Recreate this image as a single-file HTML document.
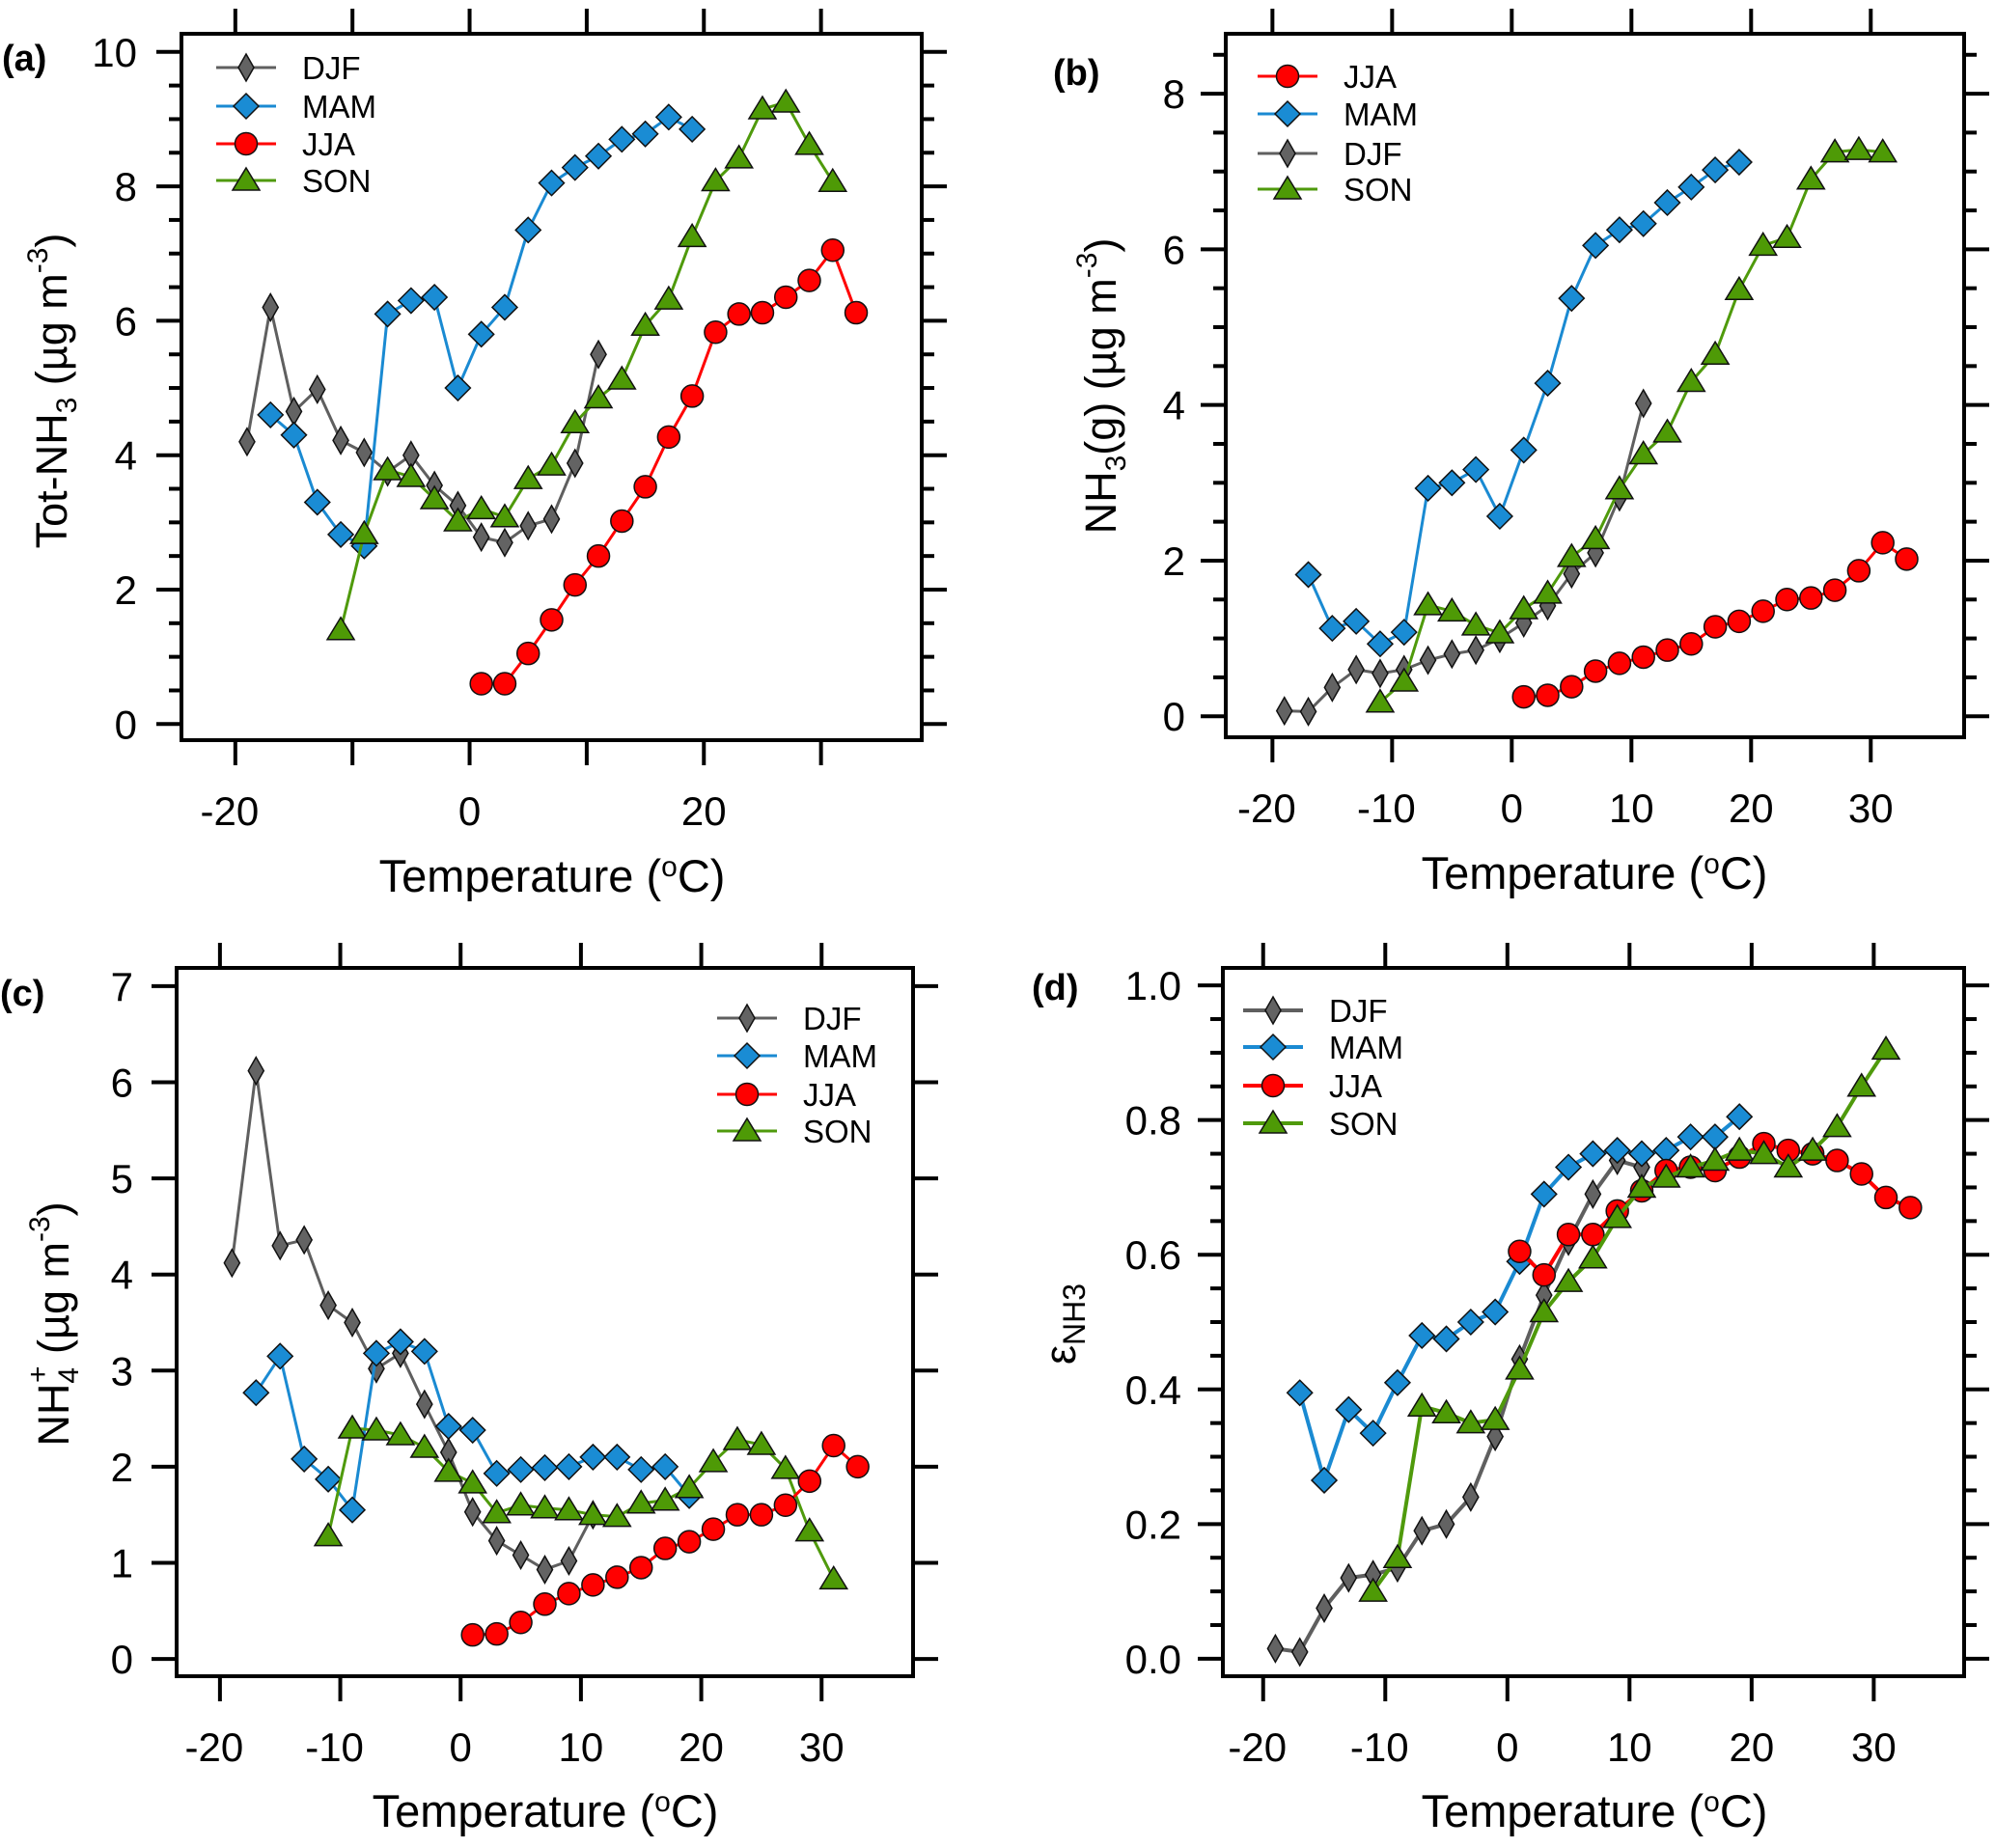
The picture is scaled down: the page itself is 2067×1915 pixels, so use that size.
<!DOCTYPE html>
<html><head><meta charset="utf-8"><style>
html,body{margin:0;padding:0;background:#fff}
svg{display:block;font-family:"Liberation Sans",Arial,sans-serif}
</style></head><body>
<svg id="fig" width="2067" height="1915" viewBox="0 0 2067 1915" xmlns="http://www.w3.org/2000/svg"></svg>
<script>
const temps = [-19,-17,-15,-13,-11,-9,-7,-5,-3,-1,1,3,5,7,9,11,13,15,17,19,21,23,25,27,29,31,33];
// Panel a: Tot-NH3
const aDJF = [4.2,6.2,4.65,4.98,4.22,4.04,3.75,4.0,3.55,3.25,2.78,2.7,2.95,3.05,3.88,5.5];
const aMAM = [4.6,4.3,3.3,2.82,2.65,6.1,6.3,6.35,5.0,5.8,6.2,7.35,8.05,8.28,8.45,8.7,8.78,9.03,8.85];
const aJJA = [0.6,0.6,1.05,1.55,2.07,2.5,3.02,3.53,4.27,4.88,5.83,6.1,6.12,6.35,6.6,7.05,6.12];
const aSON = [1.4,2.83,3.78,3.68,3.35,3.02,3.2,3.08,3.65,3.85,4.48,4.85,5.13,5.93,6.32,7.25,8.08,8.42,9.15,9.25,8.62,8.07];
// Panel b: NH3(g)
const bDJF = [0.07,0.06,0.37,0.6,0.55,0.6,0.72,0.8,0.85,1.0,1.2,1.42,1.83,2.1,2.82,4.02];
const bMAM = [1.82,1.13,1.22,0.93,1.08,2.93,3.0,3.17,2.57,3.42,4.28,5.37,6.05,6.25,6.33,6.6,6.8,7.02,7.12];
const bJJA = [0.25,0.27,0.38,0.58,0.68,0.76,0.85,0.93,1.15,1.22,1.35,1.5,1.52,1.62,1.87,2.23,2.02];
const bSON = [0.18,0.45,1.43,1.35,1.17,1.07,1.38,1.58,2.05,2.28,2.92,3.37,3.65,4.3,4.65,5.48,6.05,6.15,6.9,7.25,7.28,7.25];
// Panel c: NH4+
const cDJF = [4.12,6.12,4.3,4.36,3.68,3.5,3.02,3.18,2.65,2.15,1.53,1.23,1.08,0.93,1.02,1.5];
const cMAM = [2.77,3.15,2.08,1.87,1.55,3.18,3.3,3.2,2.42,2.38,1.93,1.97,1.99,2.0,2.1,2.1,1.97,2.0,1.7];
const cJJA = [0.25,0.26,0.38,0.57,0.68,0.77,0.85,0.95,1.15,1.22,1.35,1.5,1.5,1.6,1.85,2.22,2.0];
const cSON = [1.28,2.4,2.38,2.33,2.2,1.95,1.83,1.52,1.6,1.57,1.55,1.5,1.48,1.62,1.65,1.78,2.05,2.28,2.23,1.98,1.33,0.83];
// Panel d: epsilon NH3
const dDJF = [0.015,0.01,0.075,0.12,0.125,0.135,0.19,0.2,0.24,0.33,0.445,0.54,0.62,0.69,0.74,0.73];
const dMAM = [0.395,0.265,0.37,0.335,0.41,0.48,0.475,0.5,0.515,0.59,0.69,0.73,0.75,0.755,0.75,0.755,0.775,0.775,0.805];
const dJJA = [0.605,0.57,0.63,0.63,0.665,0.695,0.725,0.73,0.725,0.745,0.765,0.755,0.75,0.74,0.72,0.685,0.67];
const dSON = [0.1,0.15,0.375,0.365,0.35,0.355,0.43,0.515,0.56,0.595,0.655,0.7,0.715,0.73,0.74,0.755,0.75,0.73,0.755,0.79,0.85,0.905];
// start temperatures of each season
const startDJF = -19, startMAM = -17, startJJA = 1, startSON = -11;

const NS="http://www.w3.org/2000/svg";
const svg=document.getElementById('fig');
function el(tag,attrs,parent){const e=document.createElementNS(NS,tag);for(const k in attrs)e.setAttribute(k,attrs[k]);(parent||svg).appendChild(e);return e;}

const STY={
 DJF:{line:'#5f5f5f',fill:'#636363',shape:'thin'},
 MAM:{line:'#1a8ad2',fill:'#1a8cd4',shape:'diamond'},
 JJA:{line:'#ff0000',fill:'#ff0000',shape:'circle'},
 SON:{line:'#4f9a0c',fill:'#4e9a06',shape:'tri'}
};
function marker(g,shape,cx,cy,fill){
 let m;
 if(shape==='thin') m=el('polygon',{points:`${cx},${cy-14} ${cx+8},${cy} ${cx},${cy+14} ${cx-8},${cy}`,fill:fill,stroke:'#111','stroke-width':1.5},g);
 else if(shape==='diamond') m=el('polygon',{points:`${cx},${cy-13} ${cx+13},${cy} ${cx},${cy+13} ${cx-13},${cy}`,fill:fill,stroke:'#111','stroke-width':1.5},g);
 else if(shape==='circle') m=el('circle',{cx:cx,cy:cy,r:11.5,fill:fill,stroke:'#111','stroke-width':1.5},g);
 else m=el('polygon',{points:`${cx},${cy-13} ${cx+14},${cy+10} ${cx-14},${cy+10}`,fill:fill,stroke:'#111','stroke-width':1.5},g);
 return m;
}

function panel(P){
 const g=el('g',{});
 
 
 const X=t=>P.L+(t-P.xmin)/(P.xmax-P.xmin)*(P.R-P.L);
 const Y=v=>P.B-(v-P.ymin)/(P.ymax-P.ymin)*(P.B-P.T);
 P.order.forEach(s=>{
  const vals=P.data[s], st=STY[s], t0=P.start[s];
  const pts=vals.map((v,i)=>[X(t0+2*i),Y(v)]);
  const sg=el('g',{},g);
  
  
  const pl=el('polyline',{points:pts.map(p=>p.join(',')).join(' '),fill:'none',stroke:st.line,'stroke-width':P.lw},sg);
  
  
  pts.forEach(p=>{const m=marker(sg,st.shape,p[0],p[1],st.fill);
   
   });
 });
 const fr=el('rect',{x:P.L,y:P.T,width:P.R-P.L,height:P.B-P.T,fill:'none',stroke:'#000','stroke-width':4},g);
 
 
 for(let v=0; v<=P.ytop+1e-9; v+=P.yminor){
  const vv=Math.round(v*1000)/1000;
  const major=Math.abs(vv/P.ymajor-Math.round(vv/P.ymajor))<1e-6;
  const len=major?26:13, y=Y(vv);
  el('line',{x1:P.L-len,x2:P.L,y1:y,y2:y,stroke:'#000','stroke-width':4},g);
  el('line',{x1:P.R,x2:P.R+len,y1:y,y2:y,stroke:'#000','stroke-width':4},g);
  if(major && vv<=P.ylabmax+1e-9){
   const t=el('text',{x:P.ylabx,y:y+15,'text-anchor':'end','font-size':42,fill:'#000'},g);
   t.textContent=(P.ydec?vv.toFixed(1):String(vv));
   
   
  }
 }
 for(let t=-20;t<=30;t+=10){
  const x=X(t);
  el('line',{x1:x,x2:x,y1:P.T-26,y2:P.T,stroke:'#000','stroke-width':4},g);
  el('line',{x1:x,x2:x,y1:P.B,y2:P.B+26,stroke:'#000','stroke-width':4},g);
  if(P.xlabs.includes(t)){
   const tx=el('text',{x:x-(t<0?6:0),y:P.B+88,'text-anchor':'middle','font-size':42,fill:'#000'},g);
   tx.textContent=String(t);
   
   
  }
 }
 const xt=el('text',{x:P.xtx,y:P.xty,'text-anchor':'middle','font-size':47,fill:'#000'},g);
 xt.innerHTML='Temperature (<tspan font-size="30" dy="-16">o</tspan><tspan dy="16">C)</tspan>';
 
 
 const yt=el('text',{x:0,y:0,'text-anchor':'middle','font-size':45,fill:'#000',transform:`translate(${P.ytx},${P.yty}) rotate(-90)`},g);
 yt.innerHTML=P.ytitle;
 
 
 const pl=el('text',{x:P.plx,y:P.ply,'font-size':38,'font-weight':'bold',fill:'#000'},g);
 pl.textContent='('+P.id+')';
 
 
 const lg=el('g',{},g);
 
 
 P.legend.forEach((s,i)=>{
  const y=P.legY[i], st=STY[s];
  const e=el('g',{},lg);
  
  
  el('line',{x1:P.legX,x2:P.legX+62,y1:y,y2:y,stroke:st.line,'stroke-width':P.legLw},e);
  marker(e,st.shape,P.legX+31,y,st.fill);
  const t=el('text',{x:P.legX+89,y:y+12,'font-size':33,fill:'#000'},e);
  t.textContent=s;
 });
}

panel({id:'a',L:188,R:955,T:35,B:767,xmin:-24.6,xmax:38.6,ymin:-0.24,ymax:10.27,ymajor:2,yminor:0.5,ytop:10,ylabmax:10,ydec:false,
 ylabx:142,xlabs:[-20,0,20],xtx:572,xty:924,ytx:69,yty:405,plx:2,ply:73,lw:3,
 ytitle:'Tot-NH<tspan font-size="30" dy="10">3</tspan><tspan dy="-10"> (µg m</tspan><tspan font-size="30" dy="-20">-3</tspan><tspan dy="20">)</tspan>',
 data:{DJF:aDJF,MAM:aMAM,JJA:aJJA,SON:aSON},start:{DJF:startDJF,MAM:startMAM,JJA:startJJA,SON:startSON},
 order:['DJF','MAM','SON','JJA'],legend:['DJF','MAM','JJA','SON'],legX:224,legY:[70,110,149,187],legLw:3});
panel({id:'b',L:1270,R:2035,T:35,B:764,xmin:-23.9,xmax:37.8,ymin:-0.27,ymax:8.77,ymajor:2,yminor:0.5,ytop:8.5,ylabmax:8,ydec:false,
 ylabx:1228,xlabs:[-20,-10,0,10,20,30],xtx:1652,xty:921,ytx:1156,yty:400,plx:1091,ply:88,lw:3,
 ytitle:'NH<tspan font-size="30" dy="10">3</tspan><tspan dy="-10">(g) (µg m</tspan><tspan font-size="30" dy="-20">-3</tspan><tspan dy="20">)</tspan>',
 data:{DJF:bDJF,MAM:bMAM,JJA:bJJA,SON:bSON},start:{DJF:startDJF,MAM:startMAM,JJA:startJJA,SON:startSON},
 order:['DJF','MAM','SON','JJA'],legend:['JJA','MAM','DJF','SON'],legX:1303,legY:[79,118,159,196],legLw:3});
panel({id:'c',L:183,R:946,T:1003,B:1737,xmin:-23.6,xmax:37.6,ymin:-0.18,ymax:7.19,ymajor:1,yminor:1,ytop:7,ylabmax:7,ydec:false,
 ylabx:138,xlabs:[-20,-10,0,10,20,30],xtx:565,xty:1893,ytx:71,yty:1372,plx:0,ply:1042,lw:3,
 ytitle:'NH<tspan font-size="30" dy="10">4</tspan><tspan font-size="30" dy="-32" dx="-16">+</tspan><tspan dy="22"> (µg m</tspan><tspan font-size="30" dy="-20">-3</tspan><tspan dy="20">)</tspan>',
 data:{DJF:cDJF,MAM:cMAM,JJA:cJJA,SON:cSON},start:{DJF:startDJF,MAM:startMAM,JJA:startJJA,SON:startSON},
 order:['DJF','MAM','SON','JJA'],legend:['DJF','MAM','JJA','SON'],legX:743,legY:[1055,1094,1134,1172],legLw:3});
panel({id:'d',L:1267,R:2035,T:1003,B:1737,xmin:-23.3,xmax:37.4,ymin:-0.026,ymax:1.026,ymajor:0.2,yminor:0.05,ytop:1.0,ylabmax:1.0,ydec:true,
 ylabx:1224,xlabs:[-20,-10,0,10,20,30],xtx:1652,xty:1893,ytx:1114,yty:1372,plx:1069,ply:1036,lw:4,
 ytitle:'ε<tspan font-size="32" dy="10">NH3</tspan>',
 data:{DJF:dDJF,MAM:dMAM,JJA:dJJA,SON:dSON},start:{DJF:startDJF,MAM:startMAM,JJA:startJJA,SON:startSON},
 order:['DJF','MAM','JJA','SON'],legend:['DJF','MAM','JJA','SON'],legX:1288,legY:[1047,1085,1125,1164],legLw:4});
</script>
</body></html>
